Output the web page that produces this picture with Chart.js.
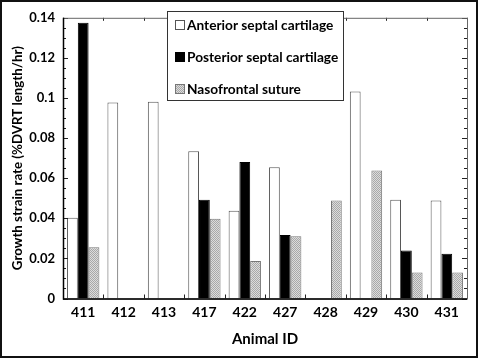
<!DOCTYPE html>
<html>
<head>
<meta charset="utf-8">
<script src="https://cdn.jsdelivr.net/npm/chart.js@4.4.0/dist/chart.umd.min.js"></script>
<style>
  html, body { margin: 0; padding: 0; background: #fff; }
  #wrap { width: 478px; height: 358px; box-sizing: border-box; border: 2px solid #111; }
  canvas { display: block; }
</style>
</head>
<body>
<div id="wrap"><canvas id="chart" width="474" height="354"></canvas></div>
<script>
// Data
var animals = ['411', '412', '413', '417', '422', '427', '428', '429', '430', '431'];
var anterior = [0.0403, 0.0978, 0.0981, 0.0735, 0.0438, 0.0654, 0, 0.1033, 0.0492, 0.0489];
var posterior = [0.1375, 0, 0, 0.0492, 0.0681, 0.0317, 0, 0, 0.0239, 0.0223];
var nasofrontal = [0.0255, 0, 0, 0.0398, 0.0187, 0.031, 0.0489, 0.0638, 0.013, 0.013];
var yTicks = [0, 0.02, 0.04, 0.06, 0.08, 0.1, 0.12, 0.14];

var FONT = 'Lato, "Open Sans", sans-serif';

// dotted grey fill used for the suture bars
function makePattern() {
    var c = document.createElement('canvas');
    c.width = 2; c.height = 2;
    var g = c.getContext('2d');
    g.fillStyle = '#dcdcdc'; g.fillRect(0, 0, 2, 2);
    g.fillStyle = '#a8a8a8'; g.fillRect(0, 0, 1, 1); g.fillRect(1, 1, 1, 1);
    return g.createPattern(c, 'repeat');
}
var grey = makePattern();

// frame with inward ticks on all four sides
var framePlugin = {
    id: 'frame',
    afterDatasetsDraw: function(chart) {
        var ctx = chart.ctx, a = chart.chartArea;
        var x = chart.scales.x, y = chart.scales.y;
        ctx.save();
        ctx.strokeStyle = '#222';
        ctx.lineWidth = 1;
        ctx.beginPath();
        for (var v = 0; v <= 0.1401; v += 0.005) {
            var py = Math.round(y.getPixelForValue(v)) + 0.5;
            var major = Math.abs(v / 0.02 - Math.round(v / 0.02)) < 1e-6;
            var len = major ? 5 : 3;
            ctx.moveTo(a.left, py); ctx.lineTo(a.left + len, py);
            ctx.moveTo(a.right, py); ctx.lineTo(a.right - len, py);
        }
        for (var i = 0; i <= animals.length; i++) {
            var px = Math.round(x.getPixelForValue(i - 0.5)) + 0.5;
            ctx.moveTo(px, a.bottom); ctx.lineTo(px, a.bottom - 4);
            ctx.moveTo(px, a.top); ctx.lineTo(px, a.top + 3);
        }
        ctx.stroke();
        ctx.strokeStyle = '#666';
        ctx.strokeRect(a.left + 0.5, a.top + 0.5, a.right - a.left, a.bottom - a.top);
        ctx.strokeStyle = '#000';
        ctx.lineWidth = 1.5;
        ctx.beginPath();
        ctx.moveTo(a.left + 0.5, a.top); ctx.lineTo(a.left + 0.5, a.bottom + 0.5);
        ctx.lineTo(a.right, a.bottom + 0.5);
        ctx.stroke();
        ctx.restore();
    }
};

// boxed legend inside the plot
var legendPlugin = {
    id: 'boxLegend',
    afterDraw: function(chart) {
        var ctx = chart.ctx;
        var bx = 165, by = 9, bw = 176, bh = 89;
        ctx.save();
        ctx.fillStyle = '#fff';
        ctx.fillRect(bx, by, bw, bh);
        ctx.strokeStyle = '#333';
        ctx.lineWidth = 1;
        ctx.strokeRect(bx + 0.5, by + 0.5, bw, bh);
        ctx.font = 'bold 13.7px ' + FONT;
        ctx.textBaseline = 'middle';
        chart.data.datasets.forEach(function(ds, i) {
            var cy = by + 14 + i * 32;
            ctx.fillStyle = ds.backgroundColor;
            ctx.fillRect(bx + 8, cy - 5, 10, 10);
            ctx.strokeStyle = ds.borderColor;
            ctx.strokeRect(bx + 8.5, cy - 4.5, 9, 9);
            ctx.fillStyle = '#000';
            ctx.fillText(ds.label, bx + 20, cy + 1);
        });
        ctx.restore();
    }
};

new Chart(document.getElementById('chart'), {
    type: 'bar',
    data: {
        labels: animals,
        datasets: [{
            label: 'Anterior septal cartilage',
            data: anterior,
            backgroundColor: '#fff',
            borderColor: '#555',
            borderWidth: 1
        }, {
            label: 'Posterior septal cartilage',
            data: posterior,
            backgroundColor: '#000',
            borderColor: '#000',
            borderWidth: 1
        }, {
            label: 'Nasofrontal suture',
            data: nasofrontal,
            backgroundColor: grey,
            borderColor: '#777',
            borderWidth: 1
        }]
    },
    plugins: [framePlugin, legendPlugin],
    options: {
        responsive: false,
        animation: false,
        layout: { padding: { top: 8.5, right: 9, left: 0, bottom: 0 } },
        categoryPercentage: 0.8,
        barPercentage: 1.0,
        plugins: {
            legend: { display: false },
            tooltip: { enabled: false }
        },
        scales: {
            x: {
                grid: { display: false, drawTicks: false, tickLength: 0 },
                border: { display: false },
                ticks: { color: '#000', padding: 6, font: { family: FONT, size: 14, weight: 'bold' } },
                title: { display: true, text: 'Animal ID', color: '#000', padding: { top: 0, bottom: 8 }, font: { family: FONT, size: 15, weight: 'bold' } },
                afterFit: function(s) { s.height = 57.5; }
            },
            y: {
                min: 0,
                max: 0.14,
                grid: { display: false, drawTicks: false, tickLength: 0 },
                border: { display: false },
                afterBuildTicks: function(s) { s.ticks = yTicks.map(function(v) { return { value: v }; }); },
                ticks: {
                    color: '#000',
                    padding: 8,
                    font: { family: FONT, size: 13, weight: 'bold' },
                    callback: function(v) { return String(+v.toFixed(3)); }
                },
                title: { display: true, text: 'Growth strain rate (%DVRT length/hr)', color: '#000', padding: { top: 8, bottom: 0 }, font: { family: FONT, size: 13.3, weight: 'bold' } },
                afterFit: function(s) { s.width = 61; }
            }
        }
    }
});
</script>
</body>
</html>
